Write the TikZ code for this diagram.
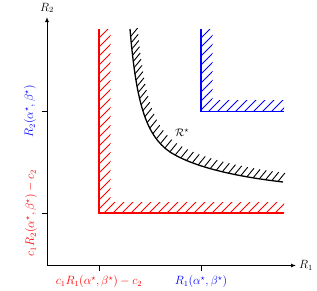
\documentclass[tikz,border=0pt]{standalone}
\usetikzlibrary{arrows.meta,decorations.markings}
\tikzset{
  axis/.style={line width=1bp,-{Latex[length=5bp,width=4bp]}},
  tick/.style={line width=1bp},
  bound/.style={line width=1.3bp},
  hatchline/.style={line width=0.9bp},
  curvehatch/.style={postaction={decorate,decoration={markings,
      mark=between positions 0.03 and 0.99 step 0.025 with {\pgftransformresetnontranslations
        \draw[hatchline] (0pt,0pt) -- (7pt,8.5pt);}}}},
  lbl/.style={inner sep=1bp,font=\fontsize{12}{14}\selectfont},
}
\begin{document}
\begin{tikzpicture}[x=1bp,y=-1bp]
\useasboundingbox (0,0) rectangle (317,291);
% axes
\coordinate (O) at (47,265.5);
\coordinate (Xend) at (296,265.5);
\coordinate (Yend) at (47,17);
\draw[axis] (O) -- (Xend);
\draw[axis] (O) -- (Yend);
\node[lbl,anchor=west] (R1) at (298,265.5) {$R_1$};
\node[lbl,anchor=south] (R2) at (47,14) {$R_2$};
% ticks
\draw[tick] (99,265.5) -- (99,270.5);
\draw[tick] (201,265.5) -- (201,270.5);
\draw[tick] (47,213) -- (42,213);
\draw[tick] (47,111.5) -- (42,111.5);
% tick labels
\node[lbl,red] (xl1) at (99,282) {$c_1R_1(\alpha^\star,\beta^\star)-c_2$};
\node[lbl,blue] (xl2) at (201,282) {$R_1(\alpha^\star,\beta^\star)$};
\node[lbl,red,rotate=90] (yl1) at (31,213) {$c_1R_2(\alpha^\star,\beta^\star)-c_2$};
\node[lbl,blue,rotate=90] (yl2) at (30,111.5) {$R_2(\alpha^\star,\beta^\star)$};
% red region
\begin{scope}
  \clip (99,29) rectangle (110.5,213) (99,202) rectangle (284,213);
  \foreach \c in {128,137,...,506} {
    \draw[hatchline,red] (\c-213,213) -- (\c-29,29);
  }
\end{scope}
\draw[bound,red] (99,29) -- (99,213) -- (284,213);
% blue region
\begin{scope}
  \clip (201,29) rectangle (212.5,111.5) (201,100) rectangle (284,111.5);
  \foreach \c in {230,239,...,404} {
    \draw[hatchline,blue] (\c-111.5,111.5) -- (\c-29,29);
  }
\end{scope}
\draw[bound,blue] (201,29) -- (201,111.5) -- (284,111.5);
% optimal region boundary
\draw[bound,curvehatch] (130,29) .. controls (136,100) and (145,135) .. (170,152) .. controls (195,168) and (240,177) .. (283,182);
\node[lbl,font=\fontsize{11}{13}\selectfont] (Rs) at (182,133) {$\mathcal{R}^\star$};
\end{tikzpicture}
\end{document}
